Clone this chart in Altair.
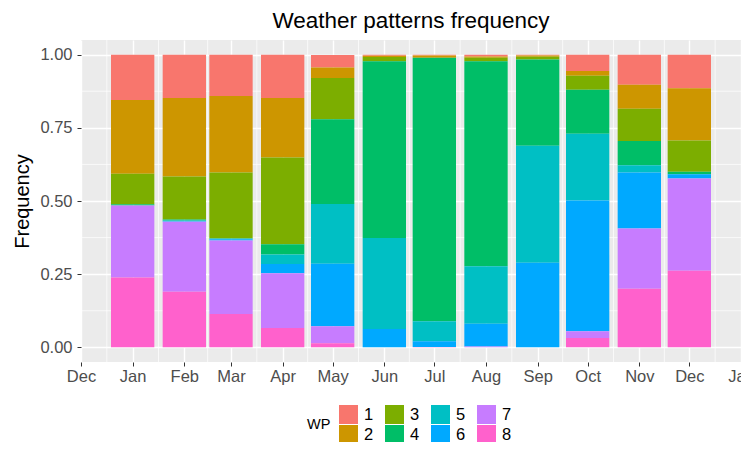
import altair as alt
import pandas as pd

# ---- data ----
months = ["Jan", "Feb", "Mar", "Apr", "May", "Jun", "Jul", "Aug", "Sep", "Oct", "Nov", "Dec"]
wp_labels = ["1", "2", "3", "4", "5", "6", "7", "8"]
wp1 = [0.155, 0.148, 0.141, 0.148, 0.043, 0.004, 0.003, 0.006, 0.003, 0.056, 0.103, 0.115]
wp2 = [0.252, 0.268, 0.262, 0.203, 0.036, 0.004, 0.008, 0.005, 0.004, 0.016, 0.082, 0.178]
wp3 = [0.104, 0.147, 0.225, 0.297, 0.141, 0.015, 0.000, 0.012, 0.010, 0.048, 0.110, 0.107]
wp4 = [0.004, 0.004, 0.000, 0.035, 0.289, 0.603, 0.900, 0.700, 0.294, 0.150, 0.083, 0.009]
wp5 = [0.000, 0.002, 0.003, 0.032, 0.204, 0.311, 0.068, 0.196, 0.400, 0.228, 0.025, 0.000]
wp6 = [0.000, 0.002, 0.004, 0.032, 0.214, 0.063, 0.020, 0.078, 0.289, 0.447, 0.191, 0.014]
wp7 = [0.246, 0.239, 0.251, 0.187, 0.058, 0.000, 0.000, 0.003, 0.000, 0.023, 0.206, 0.315]
wp8 = [0.239, 0.190, 0.114, 0.066, 0.014, 0.000, 0.001, 0.000, 0.000, 0.032, 0.200, 0.262]
series = [wp1, wp2, wp3, wp4, wp5, wp6, wp7, wp8]

# date axis: day offsets from 1 Dec (previous year) for each month start
tick_days = [0, 31, 62, 90, 121, 151, 182, 212, 243, 274, 304, 335, 365, 396]
tick_names = ["Dec", "Jan", "Feb", "Mar", "Apr", "May", "Jun", "Jul", "Aug", "Sep", "Oct", "Nov", "Dec", "Jan"]
y_ticks = [0, 0.25, 0.5, 0.75, 1.0]
y_minor = [0.125, 0.375, 0.625, 0.875]

colors = ["#F8766D", "#CD9600", "#7CAE00", "#00BE67", "#00BFC4", "#00A9FF", "#C77CFF", "#FF61CC"]

half_width = 13  # bar half width in days

rows = []
for i, m in enumerate(months):
    center = tick_days[i + 1]
    for k, lab in enumerate(wp_labels):
        rows.append({"month": m, "x0": center - half_width, "x1": center + half_width,
                     "WP": lab, "wpn": k + 1, "value": series[k][i]})
df = pd.DataFrame(rows)

x_minor = [(tick_days[i] + tick_days[i + 1]) / 2 for i in range(len(tick_days) - 1)]

FONT = "Liberation Sans"
xscale = alt.Scale(domain=[0, 396], nice=False, zero=False)
yscale = alt.Scale(domain=[-0.05, 1.05], nice=False, zero=False)

# legend order column-major like ggplot (1,2 | 3,4 | 5,6 | 7,8)
leg_order = ["1", "3", "5", "7", "2", "4", "6", "8"]
leg_colors = [colors[int(v) - 1] for v in leg_order]

label_expr = ("[" + ",".join("'" + n + "'" for n in tick_names) + "][indexof(["
              + ",".join(str(d) for d in tick_days) + "], datum.value)]")

x_axis = alt.Axis(values=tick_days, labelExpr=label_expr, title=None, grid=True,
                  gridColor="white", gridWidth=1.4, domain=False, tickColor="#333333",
                  tickSize=4, tickWidth=1, labelFontSize=16.5, labelColor="#4D4D4D",
                  labelFont=FONT, labelPadding=2, labelFlush=False, labelOverlap=False)
y_axis = alt.Axis(values=y_ticks, format=".2f", title="Frequency", grid=True,
                  gridColor="white", gridWidth=1.4, domain=False, tickColor="#333333",
                  tickSize=4, tickWidth=1, labelFontSize=16.5, labelColor="#4D4D4D",
                  labelFont=FONT, labelPadding=5, titleFont=FONT, titleFontSize=20,
                  titleFontWeight="normal", titleColor="black", titlePadding=7)

minor_v = alt.Chart(pd.DataFrame({"m": x_minor})).mark_rule(color="white", strokeWidth=0.7).encode(
    x=alt.X("m:Q", scale=xscale, axis=x_axis)
)
minor_h = alt.Chart(pd.DataFrame({"v": y_minor})).mark_rule(color="white", strokeWidth=0.7).encode(
    y=alt.Y("v:Q", scale=yscale, axis=y_axis)
)

bars = alt.Chart(df).transform_stack(
    stack="value", groupby=["month"], as_=["y0", "y1"],
    sort=[alt.SortField("wpn", order="descending")], offset="zero"
).mark_rect().encode(
    x=alt.X("x0:Q", scale=xscale, axis=x_axis),
    x2="x1:Q",
    y=alt.Y("y0:Q", scale=yscale, axis=y_axis),
    y2="y1:Q",
    color=alt.Color("WP:N", scale=alt.Scale(domain=leg_order, range=leg_colors),
                    legend=alt.Legend(orient="none", legendX=226, legendY=365,
                                      direction="horizontal", columns=4, titleOrient="left",
                                      titleAnchor="middle", titleBaseline="middle",
                                      symbolType="square", symbolSize=361, symbolStrokeWidth=0,
                                      symbolOpacity=1, labelFontSize=16.5, labelFont=FONT,
                                      labelColor="black", titleFont=FONT, titleFontSize=14.5,
                                      titleFontWeight="normal", titleColor="black",
                                      labelOffset=6, columnPadding=11, rowPadding=1,
                                      titlePadding=8)),
)

chart = alt.layer(minor_v, minor_h, bars).properties(
    width=660, height=322,
    title=alt.TitleParams("Weather patterns frequency", fontSize=22.5, font=FONT,
                          fontWeight="normal", color="black", anchor="middle", offset=7),
    autosize=alt.AutoSizeParams(type="none"),
    padding={"left": 73, "top": 32, "right": 0, "bottom": 80},
    background="white",
).configure_view(fill="#EBEBEB", stroke=None)

chart.save("out.html", embed_options={"renderer": "svg", "actions": False})
